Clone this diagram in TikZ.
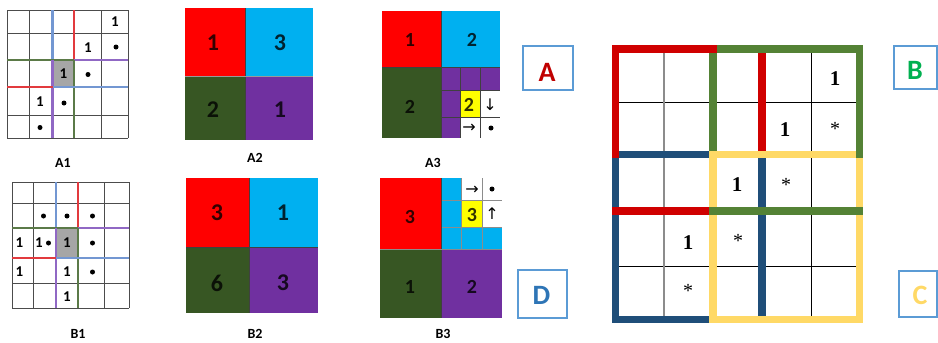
\documentclass[tikz,border=0pt]{standalone}
\usepackage{fontspec}
\setmainfont{Carlito}
\newfontfamily\serifnum{Liberation Serif}
\newfontfamily\arrowfont{DejaVu Sans}
\definecolor{qred}{HTML}{FF0000}
\definecolor{qblue}{HTML}{00B0F0}
\definecolor{qgreen}{HTML}{375623}
\definecolor{qpurple}{HTML}{7030A0}
\definecolor{qyellow}{HTML}{FFFF00}
\definecolor{lred}{HTML}{E23A3E}
\definecolor{lblue}{HTML}{7397D2}
\definecolor{lgreen}{HTML}{5B7A48}
\definecolor{lpurple}{HTML}{9068C4}
\definecolor{bred}{HTML}{D00000}
\definecolor{bgreen}{HTML}{548235}
\definecolor{bblue}{HTML}{1F4E79}
\definecolor{byellow}{HTML}{FFD966}
\definecolor{boxblue}{HTML}{5B9BD5}
\definecolor{letA}{HTML}{C00000}
\definecolor{letB}{HTML}{00B050}
\definecolor{letD}{HTML}{2E75B6}
\tikzset{
  gridline/.style={draw=black!70, line width=0.9pt},
  colline/.style={line width=2.4pt},
  smallnum/.style={font=\bfseries\fontsize{15}{15}\selectfont, inner sep=0pt},
  quadnum/.style={font=\bfseries\fontsize{24}{24}\selectfont, text=black, text opacity=0.8, inner sep=0pt},
  subnum/.style={font=\bfseries\fontsize{20}{20}\selectfont, text=black, text opacity=0.8, inner sep=0pt},
  capt/.style={font=\bfseries\fontsize{14}{14}\selectfont, inner sep=0pt},
  bignum/.style={font=\serifnum\bfseries\fontsize{21}{21}\selectfont, anchor=base, inner sep=0pt},
  bigstar/.style={font=\serifnum\fontsize{20}{20}\selectfont, anchor=base, inner sep=0pt},
  letterbox/.style={draw=boxblue, line width=1.8pt},
  letter/.style={font=\bfseries\fontsize{28}{28}\selectfont, inner sep=0pt},
  arrowglyph/.style={font=\arrowfont\fontsize{16}{16}\selectfont, inner sep=0pt},
  dotmark/.style={circle, fill=black, minimum size=5pt, inner sep=0pt},
  sep/.style={draw=black!75, line width=0.6pt}
}
\begin{document}
\begin{tikzpicture}[x=1pt,y=-1pt]
\useasboundingbox (0,0) rectangle (938,343);
\fill[white] (0,0) rectangle (938,343);

% ---------------- A1 ----------------
\fill[black!35] (52.5,60) rectangle (74,87);
\foreach \x in {7,29.5,52.5,74,101.5,128} \draw[gridline] (\x,10) -- (\x,138);
\foreach \y in {10,33,60,87,115,138} \draw[gridline] (7,\y) -- (128,\y);
\draw[colline, lblue] (52.5,10) -- (52.5,60);
\draw[colline, lred] (74,10) -- (74,60);
\draw[colline, lgreen] (7,60) -- (74,60);
\draw[colline, lpurple] (74,60) -- (128,60);
\draw[colline, lpurple] (52.5,60) -- (52.5,138);
\draw[colline, lgreen] (74,60) -- (74,138);
\draw[colline, lred] (7,87) -- (52.5,87);
\draw[colline, lblue] (52.5,87) -- (128,87);
\node[smallnum] (a1n1) at (115,22) {1};
\node[smallnum] (a1n2) at (88,47.5) {1};
\node[dotmark] (a1d1) at (116,47) {};
\node[smallnum] (a1n3) at (63.5,73.5) {1};
\node[dotmark] (a1d2) at (88,74.5) {};
\node[smallnum] (a1n4) at (40,102) {1};
\node[dotmark] (a1d3) at (64,103) {};
\node[dotmark] (a1d4) at (40,127.5) {};
\node[capt] (a1c) at (63,163) {A1};

% ---------------- B1 ----------------
\fill[black!35] (56,228) rectangle (78,258);
\foreach \x in {12,33,56,78,104,129} \draw[gridline] (\x,182) -- (\x,308);
\foreach \y in {182,203,228,258,283,308} \draw[gridline] (12,\y) -- (129,\y);
\draw[colline, lblue] (56,182) -- (56,228);
\draw[colline, lred] (78,182) -- (78,228);
\draw[colline, lgreen] (12,228) -- (78,228);
\draw[colline, lpurple] (78,228) -- (129,228);
\draw[colline, lpurple] (56,228) -- (56,308);
\draw[colline, lgreen] (78,228) -- (78,308);
\draw[colline, lred] (12,258) -- (56,258);
\draw[colline, lblue] (56,258) -- (129,258);
\node[dotmark] (b1d1) at (43.5,216) {};
\node[dotmark] (b1d2) at (67,216) {};
\node[dotmark] (b1d3) at (92.5,216) {};
\node[smallnum] (b1n1) at (19.5,243) {1};
\node[smallnum] (b1n2) at (39,243) {1};
\node[dotmark] (b1d4) at (48.5,243) {};
\node[smallnum] (b1n3) at (67,243) {1};
\node[dotmark] (b1d5) at (92.5,243) {};
\node[smallnum] (b1n4) at (19.5,272) {1};
\node[smallnum] (b1n5) at (67,272) {1};
\node[dotmark] (b1d6) at (92.5,272) {};
\node[smallnum] (b1n6) at (67,297) {1};
\node[capt] (b1c) at (78,334) {B1};

% ---------------- A2 ----------------
\fill[qred] (185,8) rectangle (245,76);
\fill[qblue] (245,8) rectangle (313,76);
\fill[qgreen] (185,76) rectangle (245,140);
\fill[qpurple] (245,76) rectangle (313,140);
\draw[sep] (245,8) -- (245,140);
\draw[sep, black!40] (185,76) -- (313,76);
\node[quadnum] (a2n1) at (213,43) {1};
\node[quadnum] (a2n2) at (280,43) {3};
\node[quadnum] (a2n3) at (213,110) {2};
\node[quadnum] (a2n4) at (280,110) {1};
\node[capt] (a2c) at (255,158) {A2};

% ---------------- B2 ----------------
\fill[qred] (186,178) rectangle (249,247);
\fill[qblue] (249,178) rectangle (318,247);
\fill[qgreen] (186,247) rectangle (249,313);
\fill[qpurple] (249,247) rectangle (318,313);
\draw[sep] (249,178) -- (249,313);
\draw[sep] (186,247) -- (318,247);
\node[quadnum] (b2n1) at (217,213) {3};
\node[quadnum] (b2n2) at (283,213) {1};
\node[quadnum] (b2n3) at (217,283) {6};
\node[quadnum] (b2n4) at (283,283) {3};
\node[capt] (b2c) at (255,334) {B2};

% ---------------- A3 ----------------
\fill[qred] (382,11) rectangle (441,67);
\fill[qblue] (441,11) rectangle (500,67);
\fill[qgreen] (382,67) rectangle (441,138);
\fill[qpurple] (441,67) rectangle (500,138);
\fill[qyellow] (460,90) rectangle (480,117);
\fill[white] (480,90) rectangle (500,117);
\fill[white] (460,117) rectangle (500,138);
\foreach \x in {460,480} \draw[sep] (\x,67) -- (\x,138);
\foreach \y in {90,117} \draw[sep] (441,\y) -- (500,\y);
\draw[sep] (441,11) -- (441,138);
\draw[sep] (382,67) -- (500,67);
\node[subnum] (a3n1) at (410,40) {1};
\node[subnum] (a3n2) at (472,40) {2};
\node[subnum] (a3n3) at (410,107) {2};
\node[subnum] (a3n4) at (469,105) {2};
\node[arrowglyph] (a3ar1) at (490,105) {↓};
\node[arrowglyph] (a3ar2) at (469,128) {→};
\node[dotmark] (a3d1) at (491,128) {};
\node[capt] (a3c) at (433,163) {A3};

% ---------------- B3 ----------------
\fill[qred] (380,178) rectangle (441,249);
\fill[qblue] (441,178) rectangle (502,249);
\fill[white] (461,178) rectangle (502,200);
\fill[qyellow] (461,200) rectangle (482,227);
\fill[white] (482,200) rectangle (502,227);
\fill[qgreen] (380,249) rectangle (441,318);
\fill[qpurple] (441,249) rectangle (502,318);
\foreach \x in {461,482} \draw[sep, black!45] (\x,178) -- (\x,249);
\foreach \y in {200,227} \draw[sep, black!45] (441,\y) -- (502,\y);
\draw[sep] (441,178) -- (441,318);
\draw[sep, black!45] (380,249) -- (502,249);
\node[subnum] (b3n1) at (410,217) {3};
\node[arrowglyph] (b3ar1) at (472,190) {→};
\node[dotmark] (b3d1) at (492,189) {};
\node[subnum] (b3n2) at (472,215) {3};
\node[arrowglyph] (b3ar2) at (492,214) {↑};
\node[subnum] (b3n3) at (410,287) {1};
\node[subnum] (b3n4) at (472,287) {2};
\node[capt] (b3c) at (443,334) {B3};

% ---------------- letter boxes ----------------
\draw[letterbox] (523,46) rectangle (573,90);
\node[letter, text=letA] (labA) at (547,72.5) {A};
\draw[letterbox] (518,270) rectangle (567,318);
\node[letter, text=letD] (labD) at (541.5,295) {D};
\draw[letterbox] (894,46) rectangle (936.6,89);
\node[letter, text=letB] (labB) at (915,70.5) {B};
\draw[letterbox] (899,271) rectangle (936.6,317);
\node[letter, text=byellow] (labC) at (920,295) {C};

% ---------------- big grid ----------------
\foreach \y in {102,266} \draw[line width=0.8pt] (616,\y) -- (860,\y);
\draw[line width=0.8pt] (811,49) -- (811,320);
\draw[line width=1.2pt, black!45] (664,49) -- (664,320);
% blue
\fill[bblue] (619,151) rectangle (709,158);
\fill[bblue] (612,151) rectangle (619,323);
\fill[bblue] (612,316) rectangle (717,323);
\fill[bblue] (758,151) rectangle (766,316);
% yellow
\fill[byellow] (709,151) rectangle (863,158);
\fill[byellow] (709,151) rectangle (717,323);
\fill[byellow] (856,151) rectangle (863,323);
\fill[byellow] (717,316) rectangle (863,323);
% red
\fill[bred] (612,45) rectangle (717,53);
\fill[bred] (612,45) rectangle (619,158);
\fill[bred] (758,53) rectangle (766,151);
\fill[bred] (612,207) rectangle (709,215);
% green
\fill[bgreen] (717,45) rectangle (863,53);
\fill[bgreen] (856,45) rectangle (863,158);
\fill[bgreen] (709,53) rectangle (717,151);
\fill[bgreen] (709,207) rectangle (863,215);
% texts
\node[bignum] (g1) at (835,85) {1};
\node[bignum] (g2) at (785,136) {1};
\node[bigstar] (g3) at (835,135) {*};
\node[bignum] (g4) at (737,191) {1};
\node[bigstar] (g5) at (786,191) {*};
\node[bignum] (g6) at (688,249) {1};
\node[bigstar] (g7) at (738,247) {*};
\node[bigstar] (g8) at (688,297) {*};
\end{tikzpicture}
\end{document}
